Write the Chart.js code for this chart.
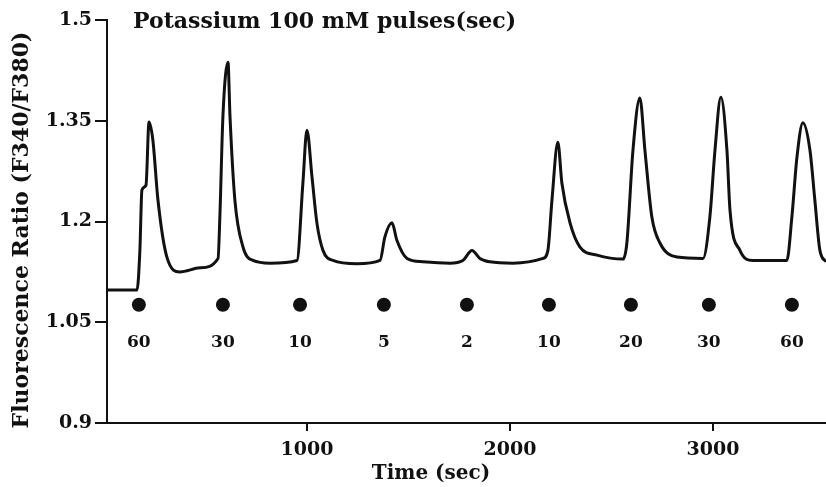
<!DOCTYPE html>
<html>
<head>
<meta charset="utf-8">
<script src="https://cdn.jsdelivr.net/npm/chart.js@4.4.0/dist/chart.umd.min.js"></script>
<style>
  html, body { margin: 0; padding: 0; background: #fff; }
  canvas { display: block; }
</style>
</head>
<body>
<canvas id="myChart" width="826" height="487"></canvas>
<script>
// trace: time (sec) and ratio F340/F380
const traceTime = [15, 163, 177, 187, 207, 222, 241, 266, 310, 374, 473, 562, 571, 586, 611, 621, 645, 685, 734, 818,
  951, 980, 1000, 1025, 1049, 1079, 1128, 1246, 1360, 1384, 1419, 1443, 1493, 1571, 1704, 1768, 1813, 1852, 1901,
  2015, 2163, 2187, 2207, 2236, 2256, 2296, 2345, 2429, 2557, 2576, 2606, 2640, 2665, 2699, 2739, 2823,
  2951, 2985, 3010, 3039, 3069, 3084, 3133, 3197, 3364, 3389, 3414, 3443, 3478, 3502, 3527, 3557];
const traceRatio = [1.098, 1.098, 1.157, 1.247, 1.254, 1.348, 1.321, 1.232, 1.147, 1.125, 1.131, 1.145, 1.207, 1.356, 1.437, 1.356, 1.232, 1.162, 1.142, 1.138,
  1.142, 1.257, 1.336, 1.266, 1.198, 1.157, 1.142, 1.137, 1.142, 1.177, 1.198, 1.172, 1.145, 1.140, 1.138, 1.142, 1.157, 1.145, 1.140,
  1.138, 1.145, 1.157, 1.232, 1.318, 1.257, 1.198, 1.162, 1.150, 1.144, 1.168, 1.306, 1.384, 1.306, 1.207, 1.168, 1.147,
  1.145, 1.207, 1.306, 1.385, 1.306, 1.217, 1.157, 1.142, 1.142, 1.207, 1.296, 1.347, 1.306, 1.232, 1.157, 1.140];

// KCl pulses
const pulseTime = [172, 586, 966, 1379, 1788, 2192, 2596, 2980, 3389];
const pulseLength = ['60', '30', '10', '5', '2', '10', '20', '30', '60'];
const pulseMarkLevel = 1.076;
const pulseLabelLevel = 1.02;

const xTicks = [1000, 2000, 3000];
const yTicks = [0.9, 1.05, 1.2, 1.35, 1.5];

const chartTitle = 'Potassium 100 mM pulses(sec)';
const xTitle = 'Time (sec)';
const yTitle = 'Fluorescence Ratio (F340/F380)';

const serif = '"DejaVu Serif", "Liberation Serif", serif';
const ink = '#111';

const tracePoints = traceTime.map((t, i) => ({x: t, y: traceRatio[i]}));
const pulsePoints = pulseTime.map(t => ({x: t, y: pulseMarkLevel}));

// texts that are not axis ticks
const textPlugin = {
  id: 'figureTexts',
  afterDraw(chart) {
    let ctx = chart.ctx;
    let xs = chart.scales.x;
    let ys = chart.scales.y;
    ctx.save();
    ctx.fillStyle = ink;
    ctx.textBaseline = 'middle';

    ctx.font = 'bold 22px ' + serif;
    ctx.textAlign = 'left';
    ctx.fillText(chartTitle, 133, 22);

    ctx.font = 'bold 17px ' + serif;
    ctx.textAlign = 'center';
    pulseTime.forEach((t, i) => {
      ctx.fillText(pulseLength[i], xs.getPixelForValue(t), ys.getPixelForValue(pulseLabelLevel));
    });

    ctx.font = 'bold 20px ' + serif;
    ctx.fillText(xTitle, 431, 474);

    ctx.font = 'bold 22px ' + serif;
    ctx.translate(22, 230);
    ctx.rotate(-Math.PI / 2);
    ctx.fillText(yTitle, 0, 0);
    ctx.restore();
  }
};

new Chart('myChart', {
  type: 'scatter',
  data: {
    datasets: [{
      data: tracePoints,
      showLine: true,
      borderColor: ink,
      borderWidth: 3,
      pointRadius: 0,
      cubicInterpolationMode: 'monotone'
    }, {
      data: pulsePoints,
      backgroundColor: ink,
      borderWidth: 0,
      pointRadius: 7
    }]
  },
  options: {
    responsive: false,
    animation: false,
    layout: {autoPadding: false, padding: {top: 20, right: 0, left: 0, bottom: 0}},
    plugins: {legend: {display: false}, tooltip: {enabled: false}},
    scales: {
      x: {
        type: 'linear',
        min: 15,
        max: 3557,
        afterBuildTicks: (scale) => { scale.ticks = xTicks.map(v => ({value: v})); },
        afterFit: (scale) => {
          scale.height = 64;
          scale.paddingRight = 0;
          scale.paddingLeft = 0;
        },
        grid: {drawOnChartArea: false, drawTicks: true, tickLength: 8, color: ink, lineWidth: 2},
        border: {display: true, color: ink, width: 2},
        ticks: {
          color: ink,
          font: {family: serif, size: 19, weight: 'bold'},
          padding: 8,
          maxRotation: 0,
          callback: (v) => String(v)
        }
      },
      y: {
        min: 0.9,
        max: 1.5,
        afterBuildTicks: (scale) => { scale.ticks = yTicks.map(v => ({value: v})); },
        afterFit: (scale) => {
          scale.width = 107;
          scale.paddingTop = 0;
          scale.paddingBottom = 0;
        },
        grid: {drawOnChartArea: false, drawTicks: true, tickLength: 12, color: ink, lineWidth: 2},
        border: {display: true, color: ink, width: 2},
        ticks: {
          color: ink,
          font: {family: serif, size: 19, weight: 'bold'},
          padding: 3,
          callback: (v) => String(Math.round(v * 100) / 100)
        }
      }
    }
  },
  plugins: [textPlugin]
});
</script>
</body>
</html>
